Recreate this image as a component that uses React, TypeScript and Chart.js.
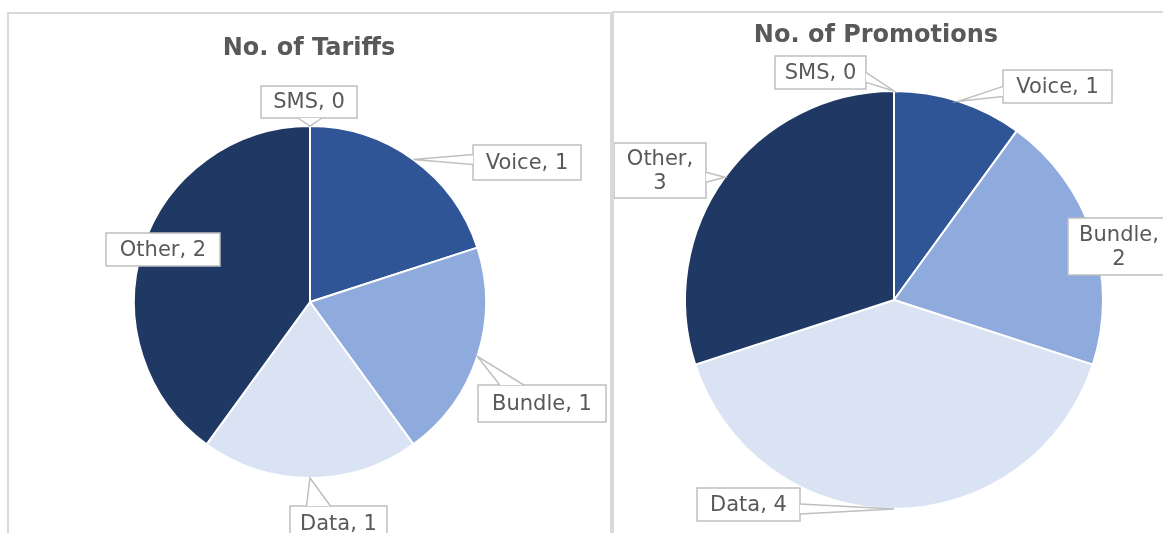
import React, { useEffect, useRef } from "react";
import { Chart, registerables } from "chart.js";

Chart.register(...registerables);

// ---- data ----
const categories = ["SMS", "Voice", "Bundle", "Data", "Other"];
const tariffValues = [0, 1, 1, 1, 2];
const promotionValues = [0, 1, 2, 4, 3];
const sliceColors = ["#4472C4", "#2F5597", "#8FAADC", "#DAE3F3", "#203864"];
const tariffTitle = "No. of Tariffs";
const promotionTitle = "No. of Promotions";

// ---- layout (canvas coordinates) ----
type Box = { x: number; y: number; w: number; h: number; wrap?: boolean };
const tariffBoxes: Box[] = [
  { x: 252, y: 72, w: 96, h: 32 },
  { x: 464, y: 131, w: 108, h: 35 },
  { x: 469, y: 371, w: 128, h: 37 },
  { x: 281, y: 492, w: 97, h: 35 },
  { x: 97, y: 219, w: 114, h: 33 },
];
const promotionBoxes: Box[] = [
  { x: 161, y: 43, w: 91, h: 33 },
  { x: 389, y: 57, w: 109, h: 33 },
  { x: 454, y: 205, w: 102, h: 57, wrap: true },
  { x: 83, y: 475, w: 103, h: 33 },
  { x: 0, y: 130, w: 92, h: 55, wrap: true },
];

const FONT = "'DejaVu Sans', 'Noto Sans', sans-serif";
const TEXT = "#595959";
const LINE = "#BFBFBF";

function calloutPlugin(title: string, titleX: number, titleY: number, boxes: Box[]) {
  return {
    id: "callouts",
    afterDatasetsDraw(chart: any) {
      const ctx = chart.ctx as CanvasRenderingContext2D;
      const meta = chart.getDatasetMeta(0);
      const values = chart.data.datasets[0].data as number[];
      const labels = chart.data.labels as string[];
      ctx.save();
      // title
      ctx.fillStyle = TEXT;
      ctx.font = `bold 24px ${FONT}`;
      ctx.textAlign = "center";
      ctx.textBaseline = "middle";
      ctx.fillText(title, titleX, titleY);

      meta.data.forEach((arc: any, i: number) => {
        const b = boxes[i];
        if (!b) return;
        const p = arc.getProps(["x", "y", "startAngle", "endAngle", "outerRadius"], true);
        const mid = (p.startAngle + p.endAngle) / 2;
        const ax = p.x + Math.cos(mid) * p.outerRadius;
        const ay = p.y + Math.sin(mid) * p.outerRadius;
        ctx.lineWidth = 1.5;
        ctx.strokeStyle = LINE;
        ctx.fillStyle = "#FFFFFF";
        ctx.fillRect(b.x, b.y, b.w, b.h);
        ctx.strokeRect(b.x, b.y, b.w, b.h);
        const inside = ax >= b.x && ax <= b.x + b.w && ay >= b.y && ay <= b.y + b.h;
        if (!inside) {
          const dxl = b.x - ax, dxr = ax - (b.x + b.w), dyt = b.y - ay, dyb = ay - (b.y + b.h);
          const m = Math.max(dxl, dxr, dyt, dyb);
          let b1x, b1y, b2x, b2y;
          if (m === dxl || m === dxr) {
            const half = 5;
            const ex = m === dxl ? b.x : b.x + b.w;
            const cy = Math.min(Math.max(ay, b.y + 0.2 * b.h + half), b.y + 0.8 * b.h - half);
            b1x = ex; b2x = ex; b1y = cy - half; b2y = cy + half;
          } else {
            const half = 12;
            const ey = m === dyt ? b.y : b.y + b.h;
            const cx = Math.min(Math.max(ax, b.x + 0.17 * b.w + half), b.x + 0.83 * b.w - half);
            b1y = ey; b2y = ey; b1x = cx - half; b2x = cx + half;
          }
          ctx.beginPath();
          ctx.moveTo(b1x, b1y);
          ctx.lineTo(ax, ay);
          ctx.lineTo(b2x, b2y);
          ctx.closePath();
          ctx.fill();
          ctx.beginPath();
          ctx.moveTo(b1x, b1y);
          ctx.lineTo(ax, ay);
          ctx.lineTo(b2x, b2y);
          ctx.stroke();
        }
        ctx.fillStyle = TEXT;
        ctx.font = `21px ${FONT}`;
        ctx.textAlign = "center";
        ctx.textBaseline = "middle";
        const cx = b.x + b.w / 2;
        const cy = b.y + b.h / 2;
        if (b.wrap) {
          ctx.fillText(`${labels[i]},`, cx, cy - 11);
          ctx.fillText(`${values[i]}`, cx, cy + 13);
        } else {
          ctx.fillText(`${labels[i]}, ${values[i]}`, cx, cy + 1);
        }
      });
      ctx.restore();
    },
  };
}

function PieCanvas(props: {
  values: number[];
  title: string;
  titleX: number;
  titleY: number;
  boxes: Box[];
  padding: { left: number; right: number; top: number; bottom: number };
  style: React.CSSProperties;
  width: number;
  height: number;
}) {
  const ref = useRef<HTMLCanvasElement>(null);
  useEffect(() => {
    if (!ref.current) return;
    const chart = new Chart(ref.current, {
      type: "pie",
      data: {
        labels: categories,
        datasets: [
          {
            data: props.values,
            backgroundColor: sliceColors,
            borderColor: "#FFFFFF",
            borderWidth: 2,
          },
        ],
      },
      options: {
        responsive: false,
        animation: false,
        layout: { padding: props.padding },
        plugins: { legend: { display: false }, tooltip: { enabled: false }, title: { display: false } },
      },
      plugins: [calloutPlugin(props.title, props.titleX, props.titleY, props.boxes)],
    });
    return () => chart.destroy();
  }, []);
  return (
    <canvas
      ref={ref}
      width={props.width}
      height={props.height}
      style={{ position: "absolute", width: props.width, height: props.height, ...props.style }}
    />
  );
}

export default function App() {
  return (
    <div
      style={{
        position: "fixed",
        left: 0,
        top: 0,
        width: 1163,
        height: 533,
        overflow: "hidden",
        background: "#FFFFFF",
      }}
    >
      <div
        style={{
          position: "absolute",
          left: 7,
          top: 12,
          width: 605,
          height: 540,
          border: "2px solid #D9D9D9",
          boxSizing: "border-box",
        }}
      />
      <div
        style={{
          position: "absolute",
          left: 612,
          top: 11,
          width: 570,
          height: 540,
          border: "2px solid #D9D9D9",
          boxSizing: "border-box",
        }}
      />
      <PieCanvas
        values={tariffValues}
        title={tariffTitle}
        titleX={300}
        titleY={35}
        boxes={tariffBoxes}
        padding={{ left: 124, right: 122, top: 111, bottom: 54 }}
        style={{ left: 9, top: 14 }}
        width={600}
        height={519}
      />
      <PieCanvas
        values={promotionValues}
        title={promotionTitle}
        titleX={262}
        titleY={23}
        boxes={promotionBoxes}
        padding={{ left: 70, right: 59, top: 77, bottom: 23 }}
        style={{ left: 614, top: 13 }}
        width={549}
        height={520}
      />
    </div>
  );
}
